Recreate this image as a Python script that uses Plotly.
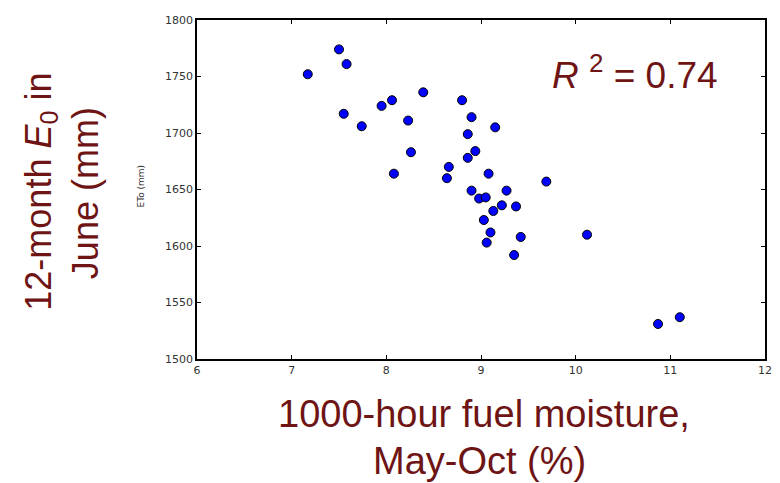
import plotly.graph_objects as go

fuel_moisture = [7.17, 7.50, 7.58, 7.55, 7.74, 7.95, 8.06, 8.39, 8.23, 8.26, 8.08,
                 8.66, 8.64, 8.80, 8.90, 8.86, 8.94, 8.86, 9.15, 9.69, 9.08, 8.90,
                 8.98, 9.05, 9.27, 9.22, 9.37, 9.13, 9.03, 9.10, 9.06, 9.42, 9.35,
                 10.12, 10.87, 11.10]
eto_mm = [1752, 1774, 1761, 1717, 1706, 1724, 1729, 1736, 1711, 1683, 1664,
          1670, 1660, 1729, 1714, 1699, 1684, 1678, 1705, 1657, 1664, 1649,
          1642, 1643, 1649, 1636, 1635, 1631, 1623, 1612, 1603, 1608, 1592,
          1610, 1531, 1537]
x_ticks = [6, 7, 8, 9, 10, 11, 12]
y_ticks = [1500, 1550, 1600, 1650, 1700, 1750, 1800]

DARK_RED = "#6E1414"
BIG = "Liberation Sans, Arial, sans-serif"

fig = go.Figure(go.Scatter(
    x=fuel_moisture, y=eto_mm, mode="markers",
    marker=dict(size=9, color="#0000FF", line=dict(color="#000000", width=1)),
    showlegend=False,
))

axis_common = dict(
    showgrid=False, zeroline=False, showline=True, linecolor="#000000", linewidth=1.5,
    mirror="ticks", ticks="inside", ticklen=4, tickwidth=1, tickcolor="#000000",
    tickfont=dict(family="DejaVu Sans, sans-serif", size=11, color="#333333"),
)


def note(text, x, y, size, color=DARK_RED, family=BIG, angle=0):
    return dict(text=text, x=x, y=y, xref="paper", yref="paper", xanchor="center",
                yanchor="middle", textangle=angle, showarrow=False,
                font=dict(family=family, size=size, color=color))


# the page body has an 8px margin, so margins are offset to place the plot area
fig.update_layout(
    width=780, height=483,
    paper_bgcolor="white", plot_bgcolor="white",
    margin=dict(l=189, r=23, t=6, b=132),
    xaxis=dict(range=[6, 12], tickvals=x_ticks, ticktext=[str(v) for v in x_ticks], **axis_common),
    yaxis=dict(range=[1500, 1800], tickvals=y_ticks, ticktext=[str(v) for v in y_ticks], **axis_common),
    annotations=[
        note("<i>R</i> <sup>2</sup> = 0.74", 0.771, 0.846, 37),
        note("ETo (mm)", -0.098, 0.51, 9, color="#333333",
             family="DejaVu Sans, sans-serif", angle=-90),
        note("12-month <i>E</i><sub>0</sub> in", -0.275, 0.493, 36, angle=-90),
        note("June (mm)", -0.195, 0.49, 36, angle=-90),
        note("1000-hour fuel moisture,", 0.505, -0.162, 38),
        note("May-Oct (%)", 0.498, -0.301, 38),
    ],
)

fig.write_html("out.html")
